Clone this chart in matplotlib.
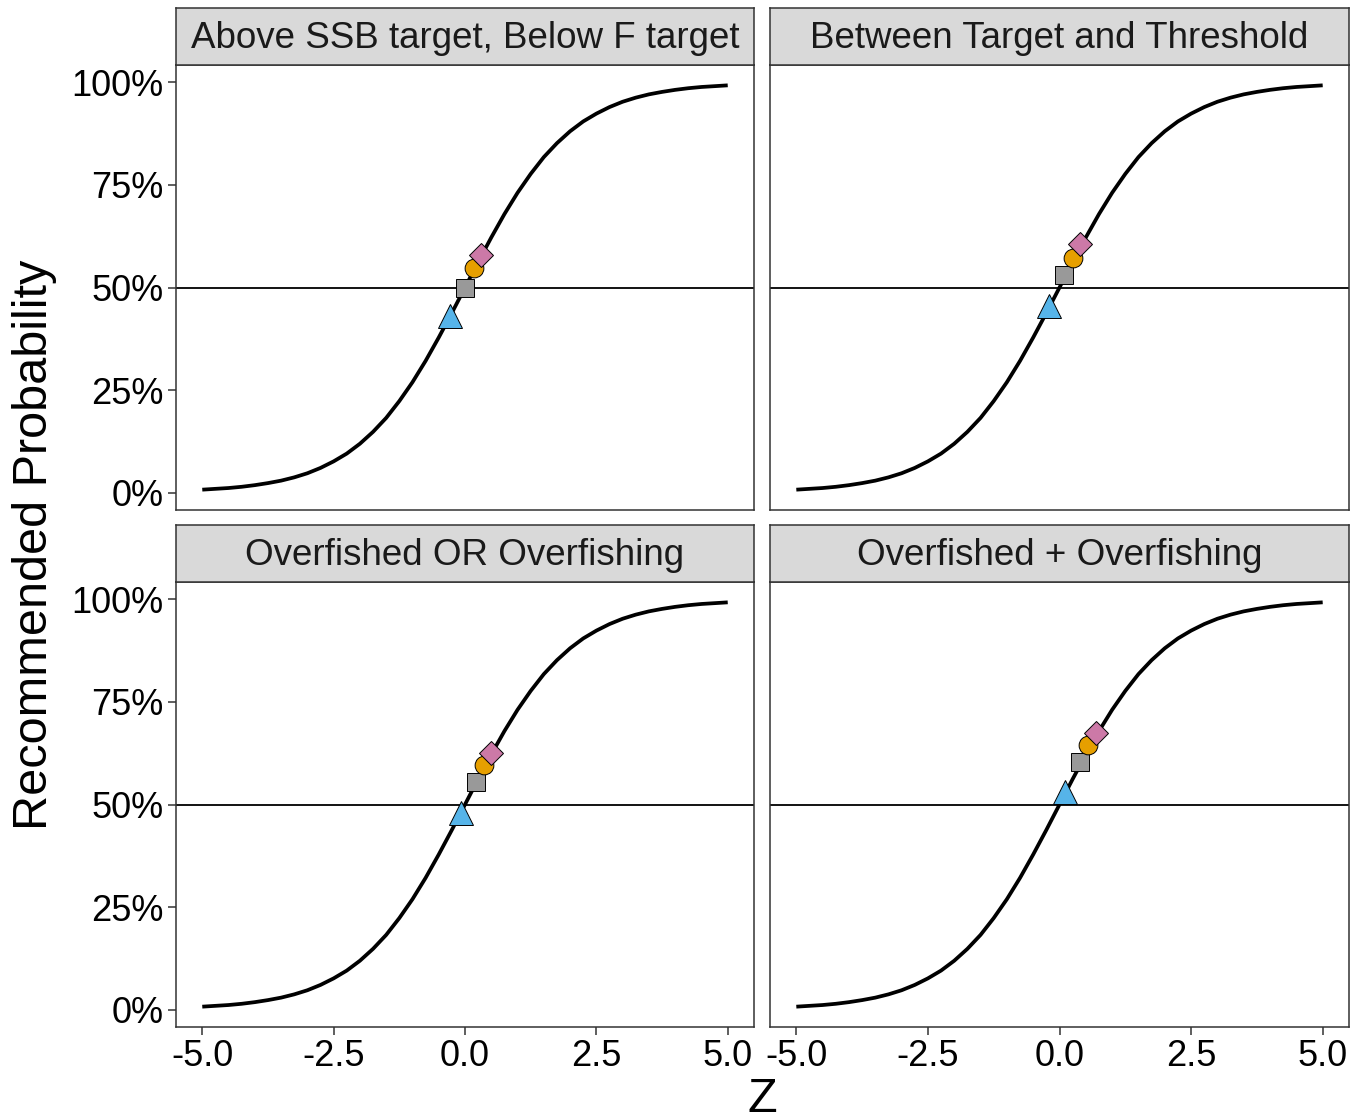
import matplotlib
matplotlib.use('Agg')
import matplotlib.pyplot as plt
import numpy as np
from matplotlib import rcParams

rcParams.update({'font.family': ['Liberation Sans', 'DejaVu Sans'],
                 'axes.linewidth': 1.1,
                 'xtick.major.width': 1.1,
                 'ytick.major.width': 1.1})

panels = ['Above SSB target, Below F target', 'Between Target and Threshold',
          'Overfished OR Overfishing', 'Overfished + Overfishing']

# fitted curve, same in every panel
z_grid = [-5.0, -4.75, -4.5, -4.25, -4.0, -3.75, -3.5, -3.25, -3.0, -2.75,
          -2.5, -2.25, -2.0, -1.75, -1.5, -1.25, -1.0, -0.75, -0.5, -0.25,
          0.0, 0.25, 0.5, 0.75, 1.0, 1.25, 1.5, 1.75, 2.0, 2.25,
          2.5, 2.75, 3.0, 3.25, 3.5, 3.75, 4.0, 4.25, 4.5, 4.75, 5.0]
prob_curve = [0.007, 0.009, 0.011, 0.014, 0.018, 0.023, 0.029, 0.037, 0.047, 0.060,
              0.076, 0.095, 0.119, 0.148, 0.182, 0.223, 0.269, 0.321, 0.378, 0.438,
              0.500, 0.562, 0.622, 0.679, 0.731, 0.777, 0.818, 0.852, 0.881, 0.905,
              0.924, 0.940, 0.953, 0.963, 0.971, 0.977, 0.982, 0.986, 0.989, 0.991, 0.993]

# points for each panel
tri_z = [-0.29, -0.19, -0.08, 0.10]
tri_p = [0.430, 0.455, 0.480, 0.530]
sq_z = [0.00, 0.09, 0.20, 0.39]
sq_p = [0.500, 0.530, 0.555, 0.604]
circ_z = [0.18, 0.26, 0.36, 0.55]
circ_p = [0.548, 0.571, 0.597, 0.646]
dia_z = [0.31, 0.39, 0.50, 0.69]
dia_p = [0.579, 0.605, 0.626, 0.675]

W, H = 1350, 1120
fig = plt.figure(figsize=(W/100, H/100), dpi=100)

lefts = [176, 770]
widths = [578, 579]
tops = [65, 582]
axh = 445
striph = 57
edge = '#333333'

for i, name in enumerate(panels):
	r, c = i // 2, i % 2
	x0, y0 = lefts[c], tops[r]
	ax = fig.add_axes([x0/W, (H - y0 - axh)/H, widths[c]/W, axh/H])
	ax.plot(z_grid, prob_curve, color='k', lw=2.7, solid_capstyle='butt', zorder=2)
	ax.axhline(0.5, color='k', lw=1.3, zorder=1)
	ax.plot(tri_z[i], tri_p[i], '^', ms=17, mfc='#56B4E9', mec='k', mew=0.7, zorder=3)
	ax.plot(sq_z[i], sq_p[i], 's', ms=12.5, mfc='#999999', mec='k', mew=0.7, zorder=4)
	ax.plot(circ_z[i], circ_p[i], 'o', ms=13.5, mfc='#E69F00', mec='k', mew=0.7, zorder=5)
	ax.plot(dia_z[i], dia_p[i], 'D', ms=12, mfc='#CC79A7', mec='k', mew=0.7, zorder=6)
	ax.set_xlim(-5.5, 5.5)
	ax.set_ylim(-0.0426, 1.0426)
	for s in ax.spines.values():
		s.set_color(edge)
	ax.set_xticks([-5, -2.5, 0, 2.5, 5])
	ax.set_yticks([0, 0.25, 0.5, 0.75, 1.0])
	ax.tick_params(length=6, color=edge, labelsize=26, labelcolor='k', pad=3)
	if r == 1:
		ax.set_xticklabels(['-5.0', '-2.5', '0.0', '2.5', '5.0'])
	else:
		ax.tick_params(axis='x', bottom=False, labelbottom=False)
	if c == 0:
		ax.set_yticklabels(['0%', '25%', '50%', '75%', '100%'])
	else:
		ax.tick_params(axis='y', left=False, labelleft=False)

	# facet strip
	st = fig.add_axes([x0/W, (H - y0)/H, widths[c]/W, striph/H])
	st.set_facecolor('#D9D9D9')
	st.set_xticks([])
	st.set_yticks([])
	for s in st.spines.values():
		s.set_color(edge)
	st.text(0.5, 0.47, name, ha='center', va='center', fontsize=26.5, color='#1A1A1A',
		transform=st.transAxes)

fig.text(762/W, 1 - 1100/H, 'Z', ha='center', va='center', fontsize=35)
fig.text(35/W, 1 - 545/H, 'Recommended Probability', ha='center', va='center',
	fontsize=35, rotation=90)

fig.savefig('out.png', dpi=100)
